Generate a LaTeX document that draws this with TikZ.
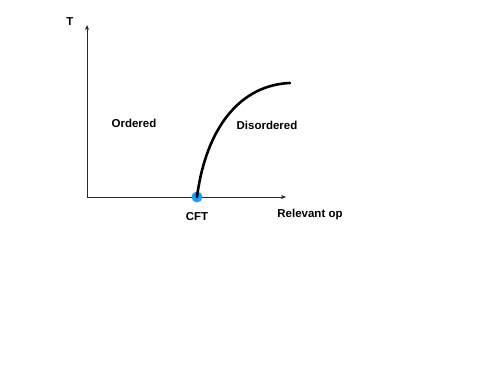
\documentclass[tikz,border=0pt]{standalone}
\usepackage{fontspec}
\setmainfont{Liberation Sans}
\usetikzlibrary{arrows.meta}
\definecolor{dotblue}{RGB}{22,160,250}
\begin{document}
\begin{tikzpicture}[x=1pt,y=-1pt,
  lbl/.style={font=\fontsize{11.5}{13}\selectfont\bfseries, inner sep=0pt},
  axis/.style={draw=black!85, line width=0.9pt, -{Stealth[length=5pt,width=4pt]}}]
\useasboundingbox (0,0) rectangle (498,374);
\coordinate (O) at (87,197);
\coordinate (Ty) at (87,25);
\coordinate (Xe) at (286,197);
\coordinate (P) at (197,197);
\coordinate (E) at (290,83);
\draw[axis] (O) -- (Ty);
\draw[axis] (O) -- (Xe);
\fill[dotblue] (P) circle (5.5);
\draw[line width=2.6pt, line cap=round] (P) .. controls (206,128) and (240,85) .. (E);
\node[lbl] (t) at (70,22) {T};
\node[lbl] (ord) at (134,123) {Ordered};
\node[lbl] (dis) at (267,125) {Disordered};
\node[lbl] (cft) at (197,217) {CFT};
\node[lbl] (rel) at (310,215) {Relevant op};
\end{tikzpicture}
\end{document}
